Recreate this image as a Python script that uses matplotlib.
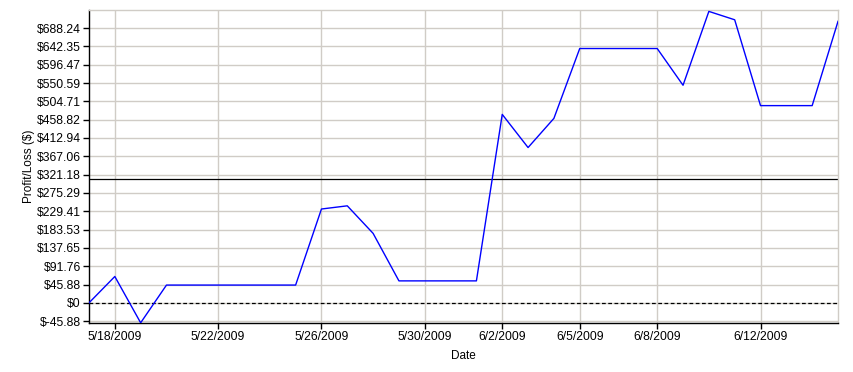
import numpy as np
import pandas as pd
import matplotlib
matplotlib.use("Agg")
import matplotlib.pyplot as plt
import matplotlib.dates as mdates
from matplotlib.ticker import FixedLocator

plt.rcParams['font.family'] = ['Liberation Sans', 'DejaVu Sans']

# daily profit/loss values
dates = pd.date_range('2009-05-17', '2009-06-15', freq='D')
pnl = [0, 66, -50, 44.5, 44.5, 44.5, 44.5, 44.5, 44.5, 235, 243, 174,
       55, 55, 55, 55, 472, 389, 462, 637, 637, 637, 637, 545, 730, 709,
       494, 494, 494, 705]
ref_level = 309
ytick_vals = [-45.88, 0, 45.88, 91.76, 137.65, 183.53, 229.41, 275.29, 321.18,
              367.06, 412.94, 458.82, 504.71, 550.59, 596.47, 642.35, 688.24]
ytick_labels = ['$-45.88', '$0', '$45.88', '$91.76', '$137.65', '$183.53', '$229.41',
                '$275.29', '$321.18', '$367.06', '$412.94', '$458.82', '$504.71',
                '$550.59', '$596.47', '$642.35', '$688.24']
xtick_dates = pd.to_datetime(['2009-05-18', '2009-05-22', '2009-05-26', '2009-05-30',
                              '2009-06-02', '2009-06-05', '2009-06-08', '2009-06-12'])
xtick_labels = ['5/18/2009', '5/22/2009', '5/26/2009', '5/30/2009',
                '6/2/2009', '6/5/2009', '6/8/2009', '6/12/2009']

fig = plt.figure(figsize=(8.54, 3.72), dpi=100)
ax = fig.add_axes([89 / 854, 1 - 323 / 372, (838 - 89) / 854, (323 - 10) / 372])

grid_c = '#d0ccc6'
ax.plot(dates, pnl, color='#0000ff', lw=1.0, zorder=3)
ax.axhline(0, color='black', lw=0.9, ls=(0, (3, 2)), zorder=2)
ax.axhline(ref_level, color='black', lw=0.9, zorder=2)

ax.set_xlim(dates[0], dates[-1])
ax.set_ylim(-50.5, 733.5)

ax.yaxis.set_major_locator(FixedLocator(ytick_vals))
ax.set_yticklabels(ytick_labels)
ax.set_xticks(mdates.date2num(xtick_dates))
ax.set_xticklabels(xtick_labels)

ax.grid(True, color=grid_c, lw=1.0, zorder=0)
ax.set_axisbelow(True)
for s in ['top', 'right']:
    ax.spines[s].set_color(grid_c)
    ax.spines[s].set_linewidth(1.0)
for s in ['left', 'bottom']:
    ax.spines[s].set_color('black')
    ax.spines[s].set_linewidth(1.0)

ax.tick_params(axis='both', labelsize=8.7, length=4, width=1, color='black', pad=2)
ax.set_ylabel('Profit/Loss ($)', fontsize=8.5, labelpad=1)
ax.set_xlabel('Date', fontsize=8.5, labelpad=5)

fig.savefig('out.png', dpi=100)
